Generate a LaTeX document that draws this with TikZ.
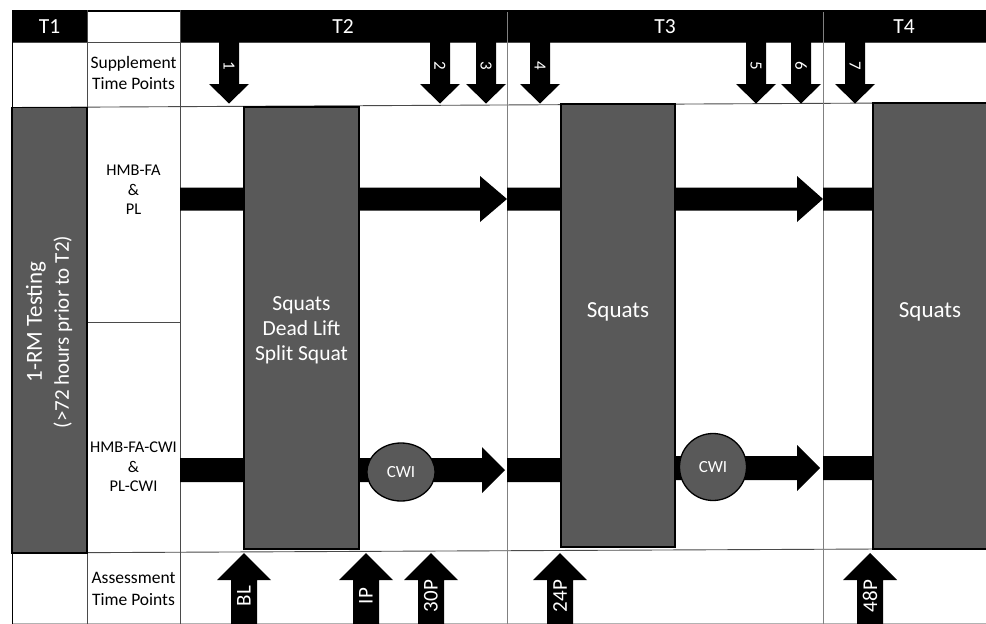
\documentclass[tikz,border=0pt]{standalone}
\usepackage{fontspec}
\setmainfont{Carlito}
\usetikzlibrary{shapes.geometric}
\definecolor{boxgray}{HTML}{595959}
\definecolor{gridc}{HTML}{4A4A4A}
\newcommand{\supparrow}[3]{%
  \fill[black] (#2-10,42) -- (#2+10,42) -- (#2+10,84) -- (#2+20,84) -- (#2,103.5) -- (#2-20,84) -- (#2-10,84) -- cycle;
  \node[alab, rotate=-90] (#1) at (#2,66) {#3};}
\newcommand{\assessarrow}[3]{%
  \fill[black] (#2-13,625) -- (#2-13,580) -- (#2-27,580) -- (#2,553) -- (#2+27,580) -- (#2+13,580) -- (#2+13,625) -- cycle;
  \node[blab, rotate=90] (#1) at (#2,596) {#3};}
\newcommand{\harrow}[5]{% x1, headstart, tip, y, shaft half
  \fill[black] (#1,#4-#5) -- (#2,#4-#5) -- (#2,#4-23) -- (#3,#4) -- (#2,#4+23) -- (#2,#4+#5) -- (#1,#4+#5) -- cycle;}
\begin{document}
\begin{tikzpicture}[x=1pt,y=-1pt,
  grid/.style={draw=gridc, line width=0.9pt},
  exbox/.style={fill=boxgray, draw=black, line width=1.3pt},
  hdr/.style={text=white, font=\fontsize{21.5}{24}\selectfont, inner sep=0pt},
  rowlbl/.style={align=center, font=\fontsize{16.4}{19.5}\selectfont, inner sep=0pt},
  sidelbl/.style={align=center, font=\fontsize{17.5}{21.7}\selectfont, inner sep=0pt},
  boxtxt/.style={align=center, text=white, font=\fontsize{21.5}{25}\selectfont, inner sep=0pt},
  bigtxt/.style={align=center, text=white, font=\fontsize{23}{28}\selectfont, inner sep=0pt},
  rmtxt/.style={text=white, inner sep=0pt},
  cwi/.style={fill=boxgray, draw=black, line width=1.3pt, ellipse, inner sep=0pt, text=white, font=\fontsize{17}{20}\selectfont},
  alab/.style={text=white, font=\fontsize{17}{20}\selectfont, inner sep=0pt},
  blab/.style={text=white, font=\fontsize{21}{24}\selectfont, inner sep=0pt}]
\useasboundingbox (0,0) rectangle (986,624);
\fill[white] (0,0) rectangle (986,624);
% header bar
\fill[black] (12,10) rectangle (986,42);
\fill[white] (87,12) rectangle (180,42);
% grid lines
\draw[grid] (12,42) -- (986,42);
\draw[grid] (12,107.5) -- (986,102.5);
\draw[grid] (87,322) -- (180,322);
\draw[grid] (12,553) -- (986,548.5);
\draw[grid, draw=gray!60] (12,623) -- (986,623);
\draw[grid, draw=black] (12,10) -- (12,624);
\draw[grid] (87,10) -- (87,624);
\draw[grid] (180,10) -- (180,624);
\draw[grid, draw=gray] (507,12) -- (507,624);
\draw[grid, draw=gray] (823,12) -- (823,624);
% header labels
\node[hdr] (t1) at (49.5,27) {T1};
\node[hdr] (t2) at (343,27) {T2};
\node[hdr] (t3) at (665,27) {T3};
\node[hdr] (t4) at (904,27) {T4};
% row labels
\node[sidelbl] (supp) at (133.5,73) {Supplement\\Time Points};
\node[rowlbl] (grp1) at (133.5,190) {HMB-FA\\\&\\PL};
\node[rowlbl] (grp2) at (133.5,467) {HMB-FA-CWI\\\&\\PL-CWI};
\node[sidelbl] (assess) at (133.5,589) {Assessment\\Time Points};
% T1 box
\draw[exbox] (12,107.5) rectangle (87,553);
\node[rmtxt, rotate=90, font=\fontsize{23}{26}\selectfont] (rm1) at (36,322) {1-RM Testing};
\node[rmtxt, rotate=90, font=\fontsize{21}{24}\selectfont] (rm2) at (63,332) {(>72 hours prior to T2)};
% horizontal arrows row 1
\harrow{180}{244}{244}{199}{11.5}
\harrow{359}{480}{507}{199}{11.5}
\harrow{507}{561}{561}{199}{11.5}
\harrow{675}{797}{823}{199}{11.5}
\harrow{823}{873}{873}{199}{11.5}
% horizontal arrows row 2
\harrow{180}{244}{244}{470}{12}
\harrow{359}{482}{505}{470}{12}
\harrow{507}{561}{561}{470}{12}
\harrow{675}{797}{820}{468}{12}
\harrow{823}{873}{873}{468}{12}
% exercise boxes
\draw[exbox] (244,107) rectangle (359,549);
\draw[exbox] (561,104) rectangle (675,547);
\draw[exbox] (873,103) rectangle (992,549);
\node[boxtxt] (ex1) at (301.5,330) {Squats\\Dead Lift\\Split Squat};
\node[bigtxt] (ex2) at (618,312) {Squats};
\node[bigtxt] (ex3) at (930,312) {Squats};
% CWI
\node[cwi, minimum width=68, minimum height=58] (cwi1) at (401,472) {CWI};
\node[cwi, minimum width=67, minimum height=67] (cwi2) at (713,467) {CWI};
% supplement arrows
\supparrow{s1}{229}{1}
\supparrow{s2}{440}{2}
\supparrow{s3}{486}{3}
\supparrow{s4}{540}{4}
\supparrow{s5}{756}{5}
\supparrow{s6}{801}{6}
\supparrow{s7}{855}{7}
% assessment arrows
\assessarrow{bl}{244}{BL}
\assessarrow{ip}{366}{IP}
\assessarrow{p30}{431}{30P}
\assessarrow{p24}{560}{24P}
\assessarrow{p48}{870}{48P}
\end{tikzpicture}
\end{document}
